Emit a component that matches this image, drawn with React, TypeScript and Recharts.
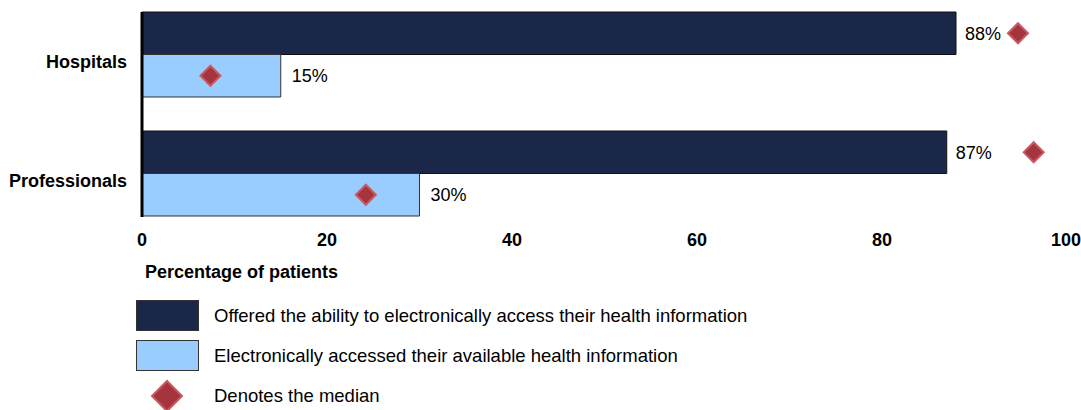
import React from "react";
import {
  ComposedChart,
  Bar,
  Scatter,
  XAxis,
  YAxis,
  LabelList,
} from "recharts";

const categories = ["Hospitals", "Professionals"];
const offered = [88, 87];
const accessed = [15, 30];
const offeredMedian = [94.7, 96.4];
const accessedMedian = [7.4, 24.2];
const xTicks = [0, 20, 40, 60, 80, 100];

const data = categories.map((name, i) => ({
  name,
  offered: offered[i],
  accessed: accessed[i],
  offeredMedian: offeredMedian[i],
  accessedMedian: accessedMedian[i],
}));

const FONT = "'Liberation Sans', Arial, sans-serif";
const DARK = "#1b2748";
const LIGHT = "#99ccff";
const RED = "#a5343f";
const RED_EDGE = "#c65a62";
const BAR = 42.5;

const Diamond = ({ x, y, r }: { x: number; y: number; r: number }) => (
  <polygon
    points={`${x},${y - r} ${x + r},${y} ${x},${y + r} ${x - r},${y}`}
    fill={RED}
    stroke={RED_EDGE}
    strokeWidth={2}
  />
);

// shift the marker up/down onto the bar it belongs to
const medianShape = (shift: number) => (props: any) => {
  const { cx, cy } = props;
  if (cx == null || cy == null) return <g />;
  return <Diamond x={cx} y={cy + shift} r={10} />;
};

const CategoryTick = ({ x, y, payload }: any) => (
  <text
    x={x - 7}
    y={y + 7}
    dy="0.355em"
    textAnchor="end"
    fontFamily={FONT}
    fontSize={18}
    fontWeight="bold"
    fill="#000"
  >
    {payload.value}
  </text>
);

const AxisTitle = ({ viewBox }: any) => (
  <text
    x={viewBox.x + 3}
    y={272}
    dy="0.355em"
    fontFamily={FONT}
    fontSize={18}
    fontWeight="bold"
    fill="#000"
  >
    Percentage of patients
  </text>
);

const legendItems = [
  { label: "Offered the ability to electronically access their health information", color: DARK },
  { label: "Electronically accessed their available health information", color: LIGHT },
];

export default function App() {
  return (
    <div style={{ position: "absolute", left: 0, top: 0, width: 1081, height: 410, background: "#fff" }}>
      <ComposedChart
        width={1081}
        height={290}
        data={data}
        layout="vertical"
        margin={{ top: 12, right: 14, left: 0, bottom: 13 }}
        barGap={0}
      >
        <XAxis
          type="number"
          domain={[0, 100]}
          ticks={xTicks}
          axisLine={false}
          tickLine={false}
          tickMargin={10}
          height={60}
          tick={{ fontFamily: FONT, fontSize: 18, fontWeight: "bold", fill: "#000" }}
          label={<AxisTitle />}
        />
        <YAxis
          type="category"
          dataKey="name"
          width={142}
          padding={{ top: -17, bottom: -16 }}
          axisLine={{ stroke: "#000", strokeWidth: 3 }}
          tickLine={false}
          tick={<CategoryTick />}
        />
        <Bar dataKey="offered" fill={DARK} stroke="#111" strokeWidth={1} barSize={BAR} isAnimationActive={false}>
          <LabelList
            dataKey="offered"
            position="right"
            offset={9}
            formatter={(v: any) => `${v}%`}
            style={{ fontFamily: FONT, fontSize: 18, fill: "#000" }}
          />
        </Bar>
        <Bar dataKey="accessed" fill={LIGHT} stroke="#333" strokeWidth={1} barSize={BAR} isAnimationActive={false}>
          <LabelList
            dataKey="accessed"
            position="right"
            offset={11}
            formatter={(v: any) => `${v}%`}
            style={{ fontFamily: FONT, fontSize: 18, fill: "#000" }}
          />
        </Bar>
        <Scatter dataKey="offeredMedian" shape={medianShape(-BAR / 2)} isAnimationActive={false} />
        <Scatter dataKey="accessedMedian" shape={medianShape(BAR / 2)} isAnimationActive={false} />
      </ComposedChart>
      <div style={{ position: "absolute", left: 0, top: 290, width: 1081, height: 120, fontFamily: FONT, fontSize: 18.5 }}>
        {legendItems.map((item, i) => (
          <div key={item.label} style={{ position: "absolute", left: 136, top: 10 + i * 40, height: 31, display: "flex", alignItems: "center" }}>
            <div style={{ width: 61, height: 29, background: item.color, border: "1px solid #333" }} />
            <span style={{ marginLeft: 15 }}>{item.label}</span>
          </div>
        ))}
        <div style={{ position: "absolute", left: 136, top: 89, height: 34, display: "flex", alignItems: "center" }}>
          <svg width={63} height={34}>
            <Diamond x={31} y={17} r={15} />
          </svg>
          <span style={{ marginLeft: 15 }}>Denotes the median</span>
        </div>
      </div>
    </div>
  );
}
